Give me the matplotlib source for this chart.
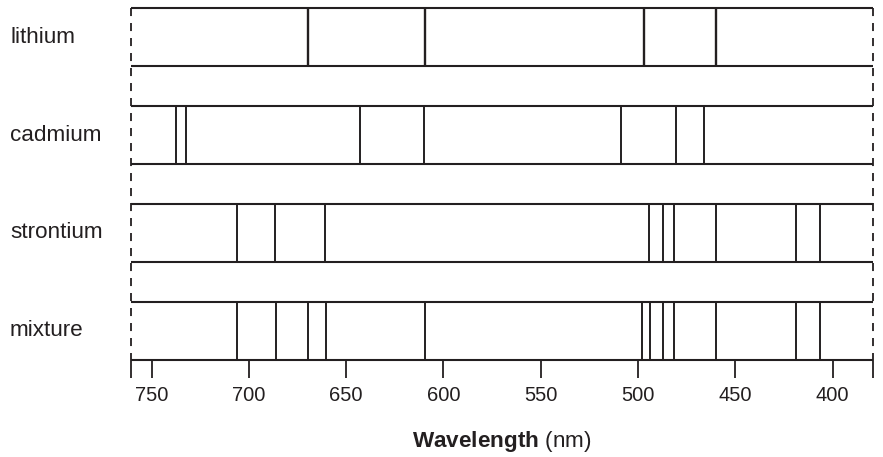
import matplotlib
matplotlib.use('Agg')
import matplotlib.pyplot as plt
import matplotlib.transforms as mtransforms

plt.rcParams['font.family'] = ['Liberation Sans', 'DejaVu Sans']
plt.rcParams['mathtext.fontset'] = 'custom'
plt.rcParams['mathtext.rm'] = 'Liberation Sans'
plt.rcParams['mathtext.bf'] = 'Liberation Sans:bold'
plt.rcParams['lines.scale_dashes'] = False

# emission lines (nm)
samples = ['lithium', 'cadmium', 'strontium', 'mixture']
lithium = [669.5, 609.5, 497.1, 459.8]
cadmium = [737.7, 732.4, 642.9, 609.9, 508.6, 480.7, 466.3]
strontium = [706.2, 686.5, 660.8, 494.3, 487.4, 481.7, 459.8, 419.0, 406.5]
mixture = [706.2, 686.3, 669.5, 660.6, 609.5, 498.0, 493.7, 487.4, 481.4,
           459.8, 419.0, 406.5]
spectra = [lithium, cadmium, strontium, mixture]
ticks = [750, 700, 650, 600, 550, 500, 450, 400]
x_left, x_right = 760.6, 379.5

ink = '#231f20'
half = 0.296  # half height of each strip, in row units

fig = plt.figure(figsize=(8.83, 4.57), dpi=100)
ax = fig.add_axes([131 / 883, 1 - 360 / 457, 741.5 / 883, 352 / 457])
ax.set_xlim(x_left, x_right)
ax.set_ylim(len(samples) - 1 + half, -half)

for i, (name, lines) in enumerate(zip(samples, spectra)):
    ax.hlines([i - half, i + half], x_left, x_right, color=ink, lw=1.5,
              clip_on=False)
    ax.vlines(lines, i - half, i + half, color=ink,
              lw=1.7 if name == 'lithium' else 1.4, clip_on=False)

# dashed edges of the visible range
for xe in (x_left, x_right):
    ax.plot([xe, xe], [-half, len(samples) - 1 + half], color=ink, lw=1.3,
            dashes=(5.8, 5.0), clip_on=False)

# sample names on the left
trans = mtransforms.blended_transform_factory(fig.transFigure, ax.transData)
for i, name in enumerate(samples):
    ax.text(10 / 883, i, name, transform=trans, ha='left', va='center',
            fontsize=16.2, color=ink)

for side in ('top', 'left', 'right', 'bottom'):
    ax.spines[side].set_visible(False)
ax.set_yticks([])
ax.set_xticks(ticks)
ax.set_xticks([x_left, x_right], minor=True)
ax.tick_params(axis='x', which='both', direction='out', length=13, width=1.3,
               color=ink, labelsize=14.5, labelcolor=ink, pad=6)
ax.set_xlabel(r'$\mathbf{Wavelength}$ (nm)', fontsize=16.2, color=ink,
              labelpad=17)

fig.savefig('out.png', dpi=100)
